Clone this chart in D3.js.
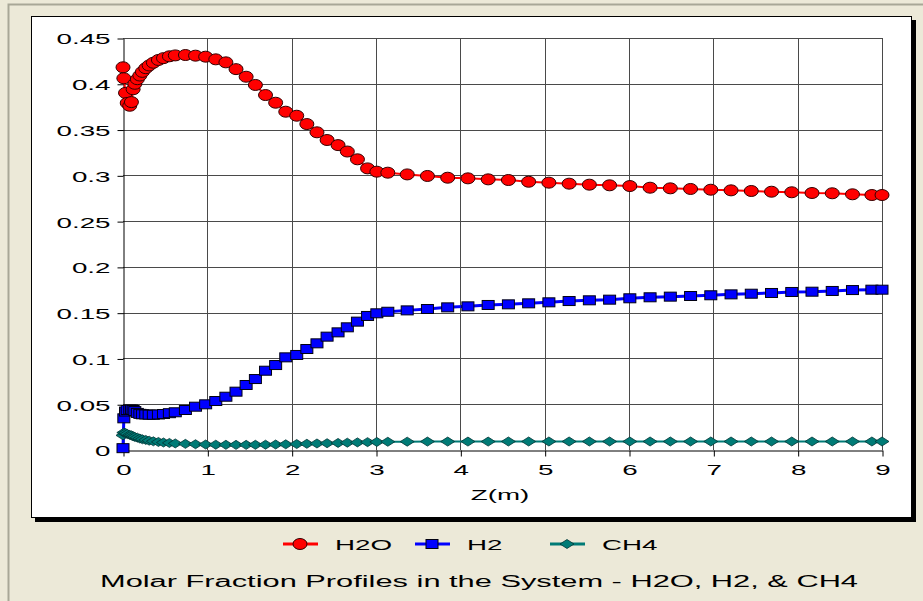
<!DOCTYPE html>
<html>
<head>
<meta charset="utf-8">
<script src="https://cdn.jsdelivr.net/npm/d3@7"></script>
<style>
  body { margin: 0; background: #ECE9D8; }
  text { font-family: "Liberation Sans", Arial, sans-serif; fill: #000; }
</style>
</head>
<body>
<div id="canvas"></div>
<script>
"use strict"

/* data */
let zValues = [0, 0.01, 0.03, 0.05, 0.08, 0.1, 0.12, 0.14, 0.17, 0.2, 0.23, 0.27, 0.31, 0.36, 0.42, 0.48, 0.55, 0.62,
  0.74, 0.86, 0.98, 1.1, 1.22, 1.34, 1.46, 1.57, 1.69, 1.81, 1.93, 2.06, 2.18, 2.3, 2.42, 2.55, 2.66, 2.78, 2.9, 3.01,
  3.14, 3.37, 3.61, 3.85, 4.09, 4.33, 4.57, 4.81, 5.05, 5.29, 5.53, 5.77, 6.01, 6.25, 6.49, 6.73, 6.97, 7.21, 7.45,
  7.69, 7.93, 8.17, 8.41, 8.65, 8.88, 9.0];

let h2oValues = [0.418, 0.406, 0.39, 0.379, 0.376, 0.38, 0.394, 0.4, 0.405, 0.409, 0.413, 0.417, 0.42, 0.423, 0.426,
  0.428, 0.43, 0.431, 0.4314, 0.4307, 0.4296, 0.4267, 0.4234, 0.416, 0.4077, 0.3987, 0.3877, 0.3793, 0.3695, 0.3651,
  0.356, 0.347, 0.3386, 0.333, 0.326, 0.3175, 0.3076, 0.304, 0.3029, 0.301, 0.2993, 0.2974, 0.2967, 0.2956, 0.2949,
  0.293, 0.292, 0.2909, 0.2898, 0.2891, 0.2883, 0.2865, 0.2858, 0.2851, 0.2843, 0.2836, 0.2829, 0.2821, 0.2815,
  0.2807, 0.2804, 0.2793, 0.2785, 0.2785];

let h2Values = [0.002, 0.0346, 0.042, 0.0437, 0.044, 0.0442, 0.0437, 0.0425, 0.0405, 0.0395, 0.039, 0.0388, 0.0386,
  0.0385, 0.0388, 0.0393, 0.0402, 0.0412, 0.0437, 0.0473, 0.0499, 0.0535, 0.0582, 0.0637, 0.071, 0.0775, 0.0866,
  0.0928, 0.1012, 0.1038, 0.1103, 0.1165, 0.1238, 0.1285, 0.134, 0.1402, 0.1464, 0.1493, 0.151, 0.1525, 0.154,
  0.1558, 0.1569, 0.1584, 0.1591, 0.1602, 0.1613, 0.1627, 0.1635, 0.1642, 0.1657, 0.1668, 0.1675, 0.1682, 0.169,
  0.17, 0.1707, 0.1715, 0.1726, 0.1729, 0.1737, 0.1747, 0.1751, 0.1751];

let ch4Values = [0.016, 0.019, 0.0185, 0.0175, 0.0165, 0.016, 0.015, 0.0143, 0.0135, 0.0125, 0.0117, 0.011, 0.0102,
  0.0095, 0.0088, 0.0082, 0.0077, 0.0072, 0.0067, 0.0063, 0.006, 0.0058, 0.0057, 0.0056, 0.0056, 0.0057, 0.0058,
  0.006, 0.0062, 0.0065, 0.0068, 0.0071, 0.0074, 0.0077, 0.008, 0.0083, 0.0086, 0.0088, 0.009, 0.0091, 0.0092,
  0.0092, 0.0092, 0.0092, 0.0093, 0.0093, 0.0093, 0.0093, 0.0093, 0.0093, 0.0093, 0.0093, 0.0093, 0.0093, 0.0093,
  0.0093, 0.0093, 0.0093, 0.0093, 0.0093, 0.0093, 0.0093, 0.0093, 0.0093];

let seriesNames = ["H2O", "H2", "CH4"];
let xTicks = [0, 1, 2, 3, 4, 5, 6, 7, 8, 9];
let yTicks = [0, 0.05, 0.1, 0.15, 0.2, 0.25, 0.3, 0.35, 0.4, 0.45];
let xTitle = "Z(m)";
let chartTitle = "Molar Fraction Profiles in the System - H2O, H2, & CH4";

/* text in the picture is stretched sideways */
let stretch = 1.85;

let drawing = d3.select("#canvas")
  .append("svg")
  .attr("width", 923)
  .attr("height", 601);

/* outer frame */
drawing.append("rect")
  .attr("width", 923).attr("height", 601)
  .attr("fill", "#ECE9D8");
drawing.append("path")
  .attr("d", "M8.5,601 V4.5 H923")
  .attr("fill", "none")
  .attr("stroke", "#A8A797")
  .attr("stroke-width", 2);

/* white panel with shadow */
drawing.append("rect")
  .attr("x", 35).attr("y", 20)
  .attr("width", 881).attr("height", 502)
  .attr("fill", "#000");
drawing.append("rect")
  .attr("x", 31.5).attr("y", 16.5)
  .attr("width", 880).attr("height", 501)
  .attr("fill", "white")
  .attr("stroke", "black");

/* scales */
let x = d3.scaleLinear().domain([0, 9]).range([123, 882]);
let y = d3.scaleLinear().domain([0, 0.45]).range([450, 38]);

/* grid */
let grid = drawing.append("g").attr("stroke", "#4a4a4a").attr("stroke-width", 1);
grid.selectAll(".hg").data(yTicks.slice(1)).join("line")
  .attr("x1", x(0)).attr("x2", x(9))
  .attr("y1", d => Math.round(y(d)) + 0.5).attr("y2", d => Math.round(y(d)) + 0.5);
grid.selectAll(".vg").data(xTicks.slice(1)).join("line")
  .attr("y1", y(0.45)).attr("y2", y(0))
  .attr("x1", d => Math.round(x(d)) + 0.5).attr("x2", d => Math.round(x(d)) + 0.5);

/* axes */
let fmt = d => d === 0 ? "0" : String(+d.toFixed(2));

let yAxis = drawing.append("g")
  .attr("transform", "translate(123.5,0.5)")
  .call(d3.axisLeft(y).tickValues(yTicks).tickFormat(fmt).tickSize(6).tickSizeOuter(0));
yAxis.select(".domain").attr("stroke", "black");
yAxis.selectAll(".tick line").attr("stroke", "black");
yAxis.selectAll(".tick text")
  .attr("x", null).attr("dy", "0.36em")
  .attr("transform", `translate(-13,0) scale(${stretch},1)`)
  .style("font-size", "15px")
  .style("font-family", "'Liberation Sans', Arial, sans-serif");

let xAxis = drawing.append("g")
  .attr("transform", "translate(0.5,450.5)")
  .call(d3.axisBottom(x).tickValues(xTicks).tickFormat(d3.format("d")).tickSize(6).tickSizeOuter(0));
xAxis.select(".domain").attr("stroke", "black");
xAxis.selectAll(".tick line").attr("stroke", "black");
xAxis.selectAll(".tick text")
  .attr("y", null).attr("dy", null)
  .attr("transform", `translate(0,24) scale(${stretch},1)`)
  .style("font-size", "15px")
  .style("font-family", "'Liberation Sans', Arial, sans-serif");

drawing.append("text")
  .attr("transform", `translate(500,500) scale(${stretch},1)`)
  .attr("text-anchor", "middle")
  .style("font-size", "15px")
  .text(xTitle);

/* series */
let rows = zValues.map((z, i) => ({ z: z, h2o: h2oValues[i], h2: h2Values[i], ch4: ch4Values[i] }));

let series = [
  { name: seriesNames[0], key: "h2o", color: "#FF0000", width: 2, shape: "circle" },
  { name: seriesNames[1], key: "h2", color: "#0000FF", width: 3, shape: "square" },
  { name: seriesNames[2], key: "ch4", color: "#007B76", width: 2, shape: "diamond" }
];

/* marker drawers: ellipse, square, diamond */
function addMarker(g, shape, color) {
  if (shape === "circle") {
    return g.append("ellipse").attr("rx", 7).attr("ry", 5.5)
      .attr("fill", color).attr("stroke", "#300").attr("stroke-width", 1);
  } else if (shape === "square") {
    return g.append("rect").attr("x", -6).attr("y", -4.5).attr("width", 12).attr("height", 9)
      .attr("fill", color).attr("stroke", "#001").attr("stroke-width", 1);
  }
  return g.append("path").attr("d", "M-7,0 L0,-4.5 L7,0 L0,4.5 Z")
    .attr("fill", color).attr("stroke", "#033").attr("stroke-width", 0.8);
}

let plot = drawing.append("g");
series.forEach(s => {
  let line = d3.line().x(d => x(d.z)).y(d => y(d[s.key]));
  plot.append("path")
    .datum(rows)
    .attr("d", line)
    .attr("fill", "none")
    .attr("stroke", s.color)
    .attr("stroke-width", s.width);
  plot.append("g").selectAll("g").data(rows).join("g")
    .attr("transform", d => `translate(${x(d.z)},${y(d[s.key])})`)
    .each(function () { addMarker(d3.select(this), s.shape, s.color); });
});

/* legend */
let legendX = [300, 432, 567];
series.forEach((s, i) => {
  let g = drawing.append("g").attr("transform", `translate(${legendX[i]},544)`);
  g.append("line").attr("x1", -17).attr("x2", 18)
    .attr("stroke", s.color).attr("stroke-width", 3);
  addMarker(g, s.shape, s.color);
  g.append("text")
    .attr("transform", `translate(35,6) scale(${stretch},1)`)
    .style("font-size", "15px")
    .text(s.name);
});

/* title */
drawing.append("text")
  .attr("x", 100).attr("y", 587)
  .attr("textLength", 758)
  .attr("lengthAdjust", "spacingAndGlyphs")
  .style("font-size", "16px")
  .text(chartTitle);
</script>
</body>
</html>
